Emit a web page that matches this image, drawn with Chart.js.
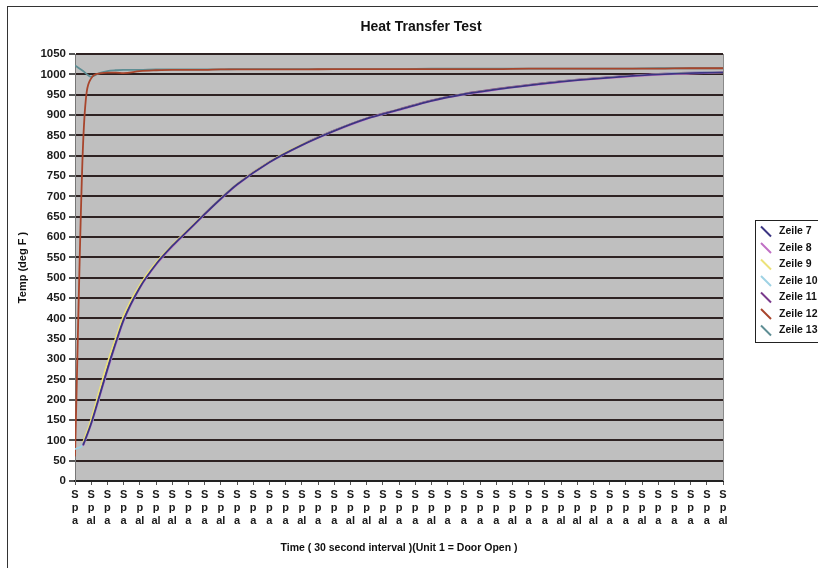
<!DOCTYPE html>
<html>
<head>
<meta charset="utf-8">
<script src="https://cdn.jsdelivr.net/npm/chart.js@4.4.1/dist/chart.umd.min.js"></script>
<style>
  html, body { margin: 0; padding: 0; background: #fff; }
  canvas { display: block; }
</style>
</head>
<body>
<canvas id="heat" width="818" height="568"></canvas>
<script>
// Zeitpunkte (Einheit = 30 s Intervall, Achse 0..40)
const steps = [0, 0.5, 1, 1.5, 2, 2.5, 3, 4, 5, 6, 7, 8, 9, 10, 12, 14, 16, 18, 20, 22, 24, 26, 28, 30, 32, 34, 36, 38, 40];

// Achsenbeschriftungen (abgeschnittene Spaltennamen)
const tickLabels = ['Spa', 'Spal', 'Spa', 'Spa', 'Spal', 'Spal', 'Spal', 'Spa', 'Spa', 'Spal', 'Spa', 'Spa', 'Spa', 'Spa', 'Spal', 'Spa', 'Spa', 'Spal', 'Spal', 'Spal', 'Spa', 'Spa', 'Spal', 'Spa', 'Spa', 'Spa', 'Spa', 'Spal', 'Spa', 'Spa', 'Spal', 'Spal', 'Spal', 'Spa', 'Spa', 'Spal', 'Spa', 'Spa', 'Spa', 'Spa', 'Spal'];

const seriesNames = ['Zeile 7', 'Zeile 8', 'Zeile 9', 'Zeile 10', 'Zeile 11', 'Zeile 12', 'Zeile 13'];
const seriesColors = ['#3b3582', '#c070c4', '#ece27a', '#9fd2e4', '#7a3a8c', '#a8452c', '#5e8e94'];

const zeile7  = [null, 88, 142, 208, 275, 338, 396, 476, 533, 578, 617, 656, 694, 729, 784, 826, 861, 891, 913, 935, 951, 963, 973, 982, 989, 995, 1000, 1003, 1005];
const zeile8  = [null, 86, 139, 204, 271, 334, 393, 474, 531, 576, 616, 655, 693, 728, 783, 825, 860, 890, 912, 934, 950, 962, 972, 981, 988, 994, 999, 1002, 1005];
const zeile9  = [null, 95, 152, 222, 290, 350, 406, 482, 537, 580, 619, 657, 695, 730, 785, 827, 861, 891, 913, 935, 951, 963, 973, 982, 989, 995, 1000, 1003, 1005];
const zeile10 = [78, 90, 138, 203, 270, 333, 393, 475, 532, 577, 617, 656, 694, 729, 784, 826, 861, 890, 912, 934, 950, 962, 972, 982, 989, 995, 1000, 1004, 1006];
const zeile11 = [null, 89, 143, 209, 276, 339, 397, 477, 534, 579, 618, 657, 695, 730, 785, 827, 862, 892, 914, 936, 952, 964, 974, 983, 990, 996, 1001, 1004, 1006];
const zeile12 = [60, 830, 990, 1002, 1004, 1004, 1003, 1008, 1010, 1011, 1011, 1011, 1012, 1012, 1012, 1012, 1013, 1013, 1013, 1013, 1013, 1013, 1014, 1014, 1014, 1014, 1014, 1015, 1015];
const zeile13 = [1022, 1008, 994, 1003, 1008, 1010, 1011, 1011, 1012, 1012, 1012, 1012, 1012, 1013, 1013, 1013, 1013, 1013, 1013, 1014, 1014, 1014, 1014, 1014, 1014, 1014, 1015, 1015, 1015];

const allSeries = [zeile7, zeile8, zeile9, zeile10, zeile11, zeile12, zeile13];

const FONT = 'Liberation Sans, Arial, sans-serif';

function toPoints(values) {
  const pts = [];
  values.forEach((v, i) => { if (v !== null) pts.push({ x: steps[i], y: v }); });
  return pts;
}

// Hintergrund, Rahmen, Titel und Legende
const decor = {
  id: 'decor',
  beforeDraw(chart) {
    const { ctx, chartArea: a } = chart;
    ctx.save();
    ctx.fillStyle = '#ffffff';
    ctx.fillRect(0, 0, chart.width, chart.height);
    ctx.fillStyle = '#bfbfbf';
    ctx.fillRect(a.left, a.top, a.right - a.left, a.bottom - a.top);
    ctx.restore();
  },
  afterDraw(chart) {
    const { ctx, chartArea: a } = chart;
    ctx.save();
    // Rahmen der Zeichnungsfläche rechts
    ctx.strokeStyle = '#8a8a8a';
    ctx.lineWidth = 1;
    ctx.beginPath();
    ctx.moveTo(a.right + 0.5, a.top);
    ctx.lineTo(a.right + 0.5, a.bottom);
    ctx.stroke();
    // Diagrammrahmen
    ctx.strokeStyle = '#333';
    ctx.strokeRect(7.5, 6.5, 900, 700);
    // Titel
    ctx.fillStyle = '#111';
    ctx.font = 'bold 14px ' + FONT;
    ctx.textAlign = 'center';
    ctx.textBaseline = 'middle';
    ctx.fillText('Heat Transfer Test', 421, 27);
    // Legende
    ctx.fillStyle = '#fff';
    ctx.fillRect(755, 220, 100, 122);
    ctx.strokeStyle = '#222';
    ctx.strokeRect(755.5, 220.5, 100, 122);
    ctx.font = 'bold 10.5px ' + FONT;
    ctx.textAlign = 'left';
    seriesNames.forEach((name, i) => {
      const y = 231.5 + i * 16.5;
      ctx.strokeStyle = seriesColors[i];
      ctx.lineWidth = 2;
      ctx.beginPath();
      ctx.moveTo(761, y - 5);
      ctx.lineTo(771, y + 5);
      ctx.stroke();
      ctx.fillStyle = '#111';
      ctx.fillText(name, 779, y);
    });
    ctx.restore();
  }
};

new Chart(document.getElementById('heat'), {
  type: 'line',
  data: {
    datasets: seriesNames.map((name, i) => ({
      label: name,
      data: toPoints(allSeries[i]),
      borderColor: seriesColors[i],
      backgroundColor: seriesColors[i],
      borderWidth: 1.8,
      pointRadius: 0,
      cubicInterpolationMode: 'monotone',
      fill: false
    }))
  },
  options: {
    responsive: false,
    devicePixelRatio: 1,
    animation: false,
    layout: { padding: { left: 10, right: 95, top: 54, bottom: 0 } },
    plugins: {
      legend: { display: false },
      title: { display: false },
      tooltip: { enabled: false }
    },
    scales: {
      x: {
        type: 'linear',
        min: 0,
        max: 40,
        afterFit: s => { s.height = 87; },
        grid: { drawOnChartArea: false, drawTicks: true, tickLength: 4, color: '#555' },
        border: { color: '#222', width: 2 },
        ticks: {
          stepSize: 1,
          autoSkip: false,
          maxRotation: 0,
          padding: 3,
          color: '#1a1a1a',
          font: { family: FONT, size: 11, weight: 'bold', lineHeight: 1.2 },
          callback: v => {
            const t = tickLabels[v];
            return t ? [t[0], t[1], t.slice(2)] : '';
          }
        },
        title: {
          display: true,
          text: 'Time ( 30 second interval )(Unit 1 = Door Open )',
          color: '#111',
          font: { family: FONT, size: 10.5, weight: 'bold' },
          padding: { top: 0, bottom: 14 }
        }
      },
      y: {
        min: 0,
        max: 1050,
        afterFit: s => { s.width = 65; },
        grid: { color: '#2e2222', lineWidth: 2, tickLength: 6, tickColor: '#555' },
        border: { color: '#777', width: 1 },
        ticks: {
          stepSize: 50,
          padding: 3,
          color: '#1a1a1a',
          font: { family: FONT, size: 11.5, weight: 'bold' },
          callback: v => String(v)
        },
        title: {
          display: true,
          text: 'Temp (deg F )',
          color: '#111',
          font: { family: FONT, size: 11, weight: 'bold' },
          padding: { top: 6, bottom: 0 }
        }
      }
    }
  },
  plugins: [decor]
});
</script>
</body>
</html>
